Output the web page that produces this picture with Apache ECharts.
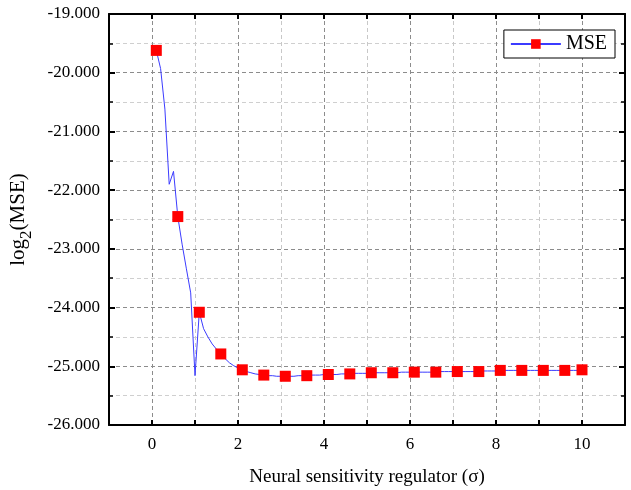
<!DOCTYPE html>
<html>
<head>
<meta charset="utf-8">
<script src="https://cdn.jsdelivr.net/npm/echarts@6/dist/echarts.min.js"></script>
<style>
  html, body { margin: 0; padding: 0; background: #fff; }
  #main { width: 631px; height: 490px; }
</style>
</head>
<body>
<div id="main"></div>
<script>
// sigma values (x) and log2(MSE) values (y)
var sigma = [
    0.1, 0.2, 0.3, 0.4, 0.5, 0.6, 0.7, 0.8, 0.9, 1.0,
    1.1, 1.2, 1.3, 1.4, 1.5, 1.6, 1.7, 1.8, 1.9, 2.0,
    2.1, 2.2, 2.3, 2.4, 2.5, 2.6, 2.7, 2.8, 2.9, 3.0,
    3.1, 3.2, 3.3, 3.4, 3.5, 3.6, 3.7, 3.8, 3.9, 4.0,
    4.1, 4.2, 4.3, 4.4, 4.5, 4.6, 4.7, 4.8, 4.9, 5.0,
    5.1, 5.2, 5.3, 5.4, 5.5, 5.6, 5.7, 5.8, 5.9, 6.0,
    6.1, 6.2, 6.3, 6.4, 6.5, 6.6, 6.7, 6.8, 6.9, 7.0,
    7.1, 7.2, 7.3, 7.4, 7.5, 7.6, 7.7, 7.8, 7.9, 8.0,
    8.1, 8.2, 8.3, 8.4, 8.5, 8.6, 8.7, 8.8, 8.9, 9.0,
    9.1, 9.2, 9.3, 9.4, 9.5, 9.6, 9.7, 9.8, 9.9, 10.0
];
var logMse = [
    -19.62, -19.93, -20.62, -21.90, -21.68, -22.45, -22.92, -23.34, -23.75, -25.16,
    -24.08, -24.36, -24.50, -24.62, -24.71, -24.79, -24.87, -24.94, -24.99, -25.03,
    -25.06, -25.09, -25.11, -25.13, -25.14, -25.15, -25.16, -25.16, -25.17, -25.17,
    -25.17, -25.17, -25.17, -25.16, -25.16, -25.16, -25.15, -25.15, -25.15, -25.14,
    -25.14, -25.14, -25.14, -25.13, -25.13, -25.13, -25.12, -25.12, -25.12, -25.12,
    -25.11, -25.11, -25.11, -25.11, -25.11, -25.11, -25.11, -25.10, -25.10, -25.10,
    -25.10, -25.10, -25.10, -25.10, -25.10, -25.10, -25.09, -25.09, -25.09, -25.09,
    -25.09, -25.09, -25.09, -25.09, -25.09, -25.09, -25.08, -25.08, -25.08, -25.08,
    -25.07, -25.07, -25.07, -25.07, -25.07, -25.07, -25.07, -25.07, -25.07, -25.07,
    -25.07, -25.07, -25.07, -25.07, -25.07, -25.07, -25.07, -25.07, -25.07, -25.06
];
var xTickLabels = ['0', '2', '4', '6', '8', '10'];
var seriesName = 'MSE';

var fontFamily = '"Liberation Serif", "Times New Roman", serif';

// markers every 5th point plus the last one
var lineData = sigma.map(function(x, i) {
    var item = { value: [x, logMse[i]] };
    if (!(i % 5 === 0 || i === sigma.length - 1)) {
        item.symbol = 'none';
    }
    return item;
});

var chartDom = document.getElementById('main');
var myChart = echarts.init(chartDom, null, { renderer: 'canvas' });

var xCommon = {
    type: 'value',
    min: -1,
    max: 11,
    interval: 1,
    axisLine: { show: true, onZero: false, lineStyle: { color: '#000', width: 2 } },
    axisTick: { show: true, inside: true, length: 5, lineStyle: { color: '#000', width: 2 } }
};
var yCommon = {
    type: 'value',
    min: -26,
    max: -19,
    interval: 1,
    axisLine: { show: true, onZero: false, lineStyle: { color: '#000', width: 2 } },
    axisTick: { show: true, inside: true, length: 6, lineStyle: { color: '#000', width: 2 } },
    minorTick: { show: true, splitNumber: 2, length: 4, lineStyle: { color: '#000', width: 1.5 } }
};

var option = {
    animation: false,
    textStyle: { fontFamily: fontFamily },
    grid: {
        left: 109,
        right: 6,
        top: 14,
        bottom: 65,
        containLabel: false,
        outerBoundsMode: 'none'
    },
    legend: {
        data: [seriesName],
        right: 16,
        top: 30,
        itemWidth: 50,
        itemHeight: 12,
        itemGap: 6,
        padding: [4, 8, 4, 6],
        borderColor: '#000',
        borderWidth: 1,
        backgroundColor: '#fff',
        textStyle: { fontFamily: fontFamily, fontSize: 20, color: '#000' }
    },
    xAxis: [
        Object.assign({}, xCommon, {
            position: 'bottom',
            name: 'Neural sensitivity regulator (\u03c3)',
            nameLocation: 'middle',
            nameGap: 43,
            nameTextStyle: { fontFamily: fontFamily, fontSize: 19, color: '#000' },
            axisLabel: {
                color: '#000',
                fontFamily: fontFamily,
                fontSize: 17,
                margin: 11,
                formatter: function(v) {
                    var s = String(v);
                    return xTickLabels.indexOf(s) >= 0 ? s : '';
                }
            },
            splitLine: {
                show: true,
                lineStyle: { color: ['#c8c8c8', '#8c8c8c'], type: [4, 3], width: 1 }
            }
        }),
        Object.assign({}, xCommon, {
            position: 'top',
            axisLabel: { show: false },
            splitLine: { show: false }
        })
    ],
    yAxis: [
        Object.assign({}, yCommon, {
            position: 'left',
            name: '{n|log}{s|2}{n|(MSE)}',
            nameLocation: 'middle',
            nameGap: 70,
            nameTextStyle: {
                rich: {
                    n: { fontFamily: fontFamily, fontSize: 21, color: '#000', verticalAlign: 'top', height: 24 },
                    s: { fontFamily: fontFamily, fontSize: 17, color: '#000', verticalAlign: 'bottom', height: 24, padding: [9, 0, 0, 0] }
                }
            },
            axisLabel: {
                color: '#000',
                fontFamily: fontFamily,
                fontSize: 17,
                margin: 9,
                formatter: function(v) { return v.toFixed(3); }
            },
            splitLine: {
                show: true,
                lineStyle: { color: '#8c8c8c', type: [4, 3], width: 1 }
            },
            minorSplitLine: {
                show: true,
                lineStyle: { color: '#cfcfcf', type: [4, 3], width: 1 }
            }
        }),
        Object.assign({}, yCommon, {
            position: 'right',
            axisLabel: { show: false },
            splitLine: { show: false }
        })
    ],
    series: [
        {
            name: seriesName,
            type: 'line',
            xAxisIndex: 0,
            yAxisIndex: 0,
            data: lineData,
            symbol: 'rect',
            symbolSize: 11,
            showAllSymbol: true,
            lineStyle: { color: '#3b3bff', width: 1 },
            itemStyle: { color: '#ff0000', borderWidth: 0 },
            emphasis: { disabled: true }
        }
    ]
};

option && myChart.setOption(option);
</script>
</body>
</html>
